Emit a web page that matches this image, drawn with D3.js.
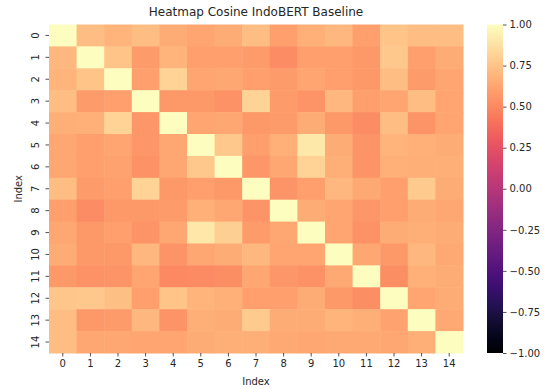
<!DOCTYPE html>
<html>
<head>
<meta charset="utf-8">
<script src="https://cdn.jsdelivr.net/npm/d3@7"></script>
<style>
  body { margin: 0; background: #fff; }
  text { font-family: "DejaVu Sans", sans-serif; fill: #262626; }
</style>
</head>
<body>
<svg id="chart" width="550" height="389"></svg>
<script>
// data: cosine similarity matrix
const labels = d3.range(15).map(String);
const matrix = [
  [1.00, 0.72, 0.68, 0.72, 0.65, 0.62, 0.65, 0.72, 0.60, 0.67, 0.70, 0.60, 0.75, 0.72, 0.72],
  [0.70, 1.00, 0.75, 0.58, 0.68, 0.60, 0.60, 0.58, 0.52, 0.60, 0.60, 0.57, 0.77, 0.60, 0.65],
  [0.68, 0.75, 1.00, 0.60, 0.82, 0.62, 0.63, 0.60, 0.58, 0.62, 0.60, 0.57, 0.72, 0.58, 0.62],
  [0.72, 0.58, 0.60, 1.00, 0.57, 0.57, 0.54, 0.82, 0.58, 0.55, 0.70, 0.60, 0.62, 0.72, 0.62],
  [0.66, 0.67, 0.82, 0.56, 1.00, 0.62, 0.63, 0.57, 0.58, 0.65, 0.57, 0.52, 0.72, 0.55, 0.62],
  [0.63, 0.60, 0.62, 0.56, 0.63, 1.00, 0.77, 0.60, 0.67, 0.90, 0.65, 0.55, 0.68, 0.67, 0.65],
  [0.63, 0.60, 0.61, 0.54, 0.63, 0.77, 1.00, 0.56, 0.63, 0.82, 0.66, 0.55, 0.67, 0.66, 0.66],
  [0.72, 0.58, 0.60, 0.82, 0.57, 0.60, 0.57, 1.00, 0.55, 0.60, 0.70, 0.64, 0.60, 0.78, 0.65],
  [0.60, 0.52, 0.57, 0.57, 0.58, 0.67, 0.63, 0.55, 1.00, 0.65, 0.62, 0.56, 0.60, 0.65, 0.63],
  [0.63, 0.57, 0.60, 0.55, 0.63, 0.90, 0.80, 0.58, 0.63, 1.00, 0.62, 0.54, 0.65, 0.66, 0.65],
  [0.65, 0.57, 0.57, 0.70, 0.55, 0.63, 0.65, 0.70, 0.62, 0.62, 1.00, 0.63, 0.57, 0.70, 0.64],
  [0.57, 0.54, 0.55, 0.62, 0.50, 0.51, 0.53, 0.63, 0.56, 0.54, 0.64, 1.00, 0.53, 0.67, 0.65],
  [0.76, 0.77, 0.73, 0.60, 0.75, 0.68, 0.67, 0.60, 0.60, 0.65, 0.57, 0.53, 1.00, 0.62, 0.65],
  [0.72, 0.57, 0.58, 0.70, 0.55, 0.66, 0.65, 0.78, 0.65, 0.65, 0.68, 0.66, 0.61, 1.00, 0.64],
  [0.72, 0.63, 0.63, 0.62, 0.62, 0.65, 0.66, 0.66, 0.64, 0.63, 0.64, 0.64, 0.63, 0.66, 1.00]
];
const colorTicks = [-1, -0.75, -0.5, -0.25, 0, 0.25, 0.5, 0.75, 1];

// sizes
const plot = { left: 49, right: 463, top: 24.5, bottom: 353 };
const bar = { left: 487, width: 16, top: 24.5, bottom: 353 };

const svg = d3.select("#chart");

const x = d3.scaleBand().domain(labels).range([plot.left, plot.right]);
const y = d3.scaleBand().domain(labels).range([plot.top, plot.bottom]);
const color = d3.scaleSequential(d3.interpolateMagma).domain([-1, 1]);

// cells
const cells = [];
matrix.forEach((row, i) => row.forEach((v, j) => cells.push({ r: labels[i], c: labels[j], v })));

svg.append("g")
  .selectAll("rect")
  .data(cells)
  .join("rect")
  .attr("x", d => x(d.c))
  .attr("y", d => y(d.r))
  .attr("width", x.bandwidth() + 0.5)
  .attr("height", y.bandwidth() + 0.5)
  .attr("fill", d => color(d.v));

// axes
const xAxis = svg.append("g")
  .attr("transform", `translate(0,${plot.bottom})`)
  .call(d3.axisBottom(x).tickSize(3.5).tickPadding(3.5));
xAxis.select(".domain").remove();
xAxis.selectAll("text").style("font-size", "10px").attr("fill", "#262626");
xAxis.selectAll("line").attr("stroke", "#262626").attr("stroke-width", 0.8);

const yAxis = svg.append("g")
  .attr("transform", `translate(${plot.left},0)`)
  .call(d3.axisLeft(y).tickSize(3.5).tickPadding(3.5));
yAxis.select(".domain").remove();
yAxis.selectAll("line").attr("stroke", "#262626").attr("stroke-width", 0.8);
yAxis.selectAll("text")
  .style("font-size", "10px")
  .attr("fill", "#262626")
  .attr("text-anchor", "middle")
  .attr("x", 0)
  .attr("y", 0)
  .attr("dy", 0)
  .attr("transform", "translate(-10.5,0) rotate(-90)");

// titles
svg.append("text")
  .attr("x", (plot.left + plot.right) / 2)
  .attr("y", 16)
  .attr("text-anchor", "middle")
  .style("font-size", "12px")
  .text("Heatmap Cosine IndoBERT Baseline");

svg.append("text")
  .attr("x", (plot.left + plot.right) / 2)
  .attr("y", 385)
  .attr("text-anchor", "middle")
  .style("font-size", "10px")
  .text("Index");

svg.append("text")
  .attr("transform", `translate(22,${(plot.top + plot.bottom) / 2}) rotate(-90)`)
  .attr("text-anchor", "middle")
  .style("font-size", "10px")
  .text("Index");

// colour bar
const defs = svg.append("defs");
const grad = defs.append("linearGradient")
  .attr("id", "magma")
  .attr("x1", "0%").attr("y1", "100%")
  .attr("x2", "0%").attr("y2", "0%");
d3.range(0, 1.0001, 0.05).forEach(t => {
  grad.append("stop").attr("offset", `${t * 100}%`).attr("stop-color", d3.interpolateMagma(t));
});
svg.append("rect")
  .attr("x", bar.left)
  .attr("y", bar.top)
  .attr("width", bar.width)
  .attr("height", bar.bottom - bar.top)
  .attr("fill", "url(#magma)");

const cScale = d3.scaleLinear().domain([-1, 1]).range([bar.bottom, bar.top]);
const cAxis = svg.append("g")
  .attr("transform", `translate(${bar.left + bar.width},0)`)
  .call(d3.axisRight(cScale).tickValues(colorTicks).tickSize(3.5).tickPadding(3)
    .tickFormat(d => d3.format(".2f")(d).replace("-", "\u2212")));
cAxis.select(".domain").remove();
cAxis.selectAll("text").style("font-size", "10px").attr("fill", "#262626");
cAxis.selectAll("line").attr("stroke", "#262626").attr("stroke-width", 0.8);
</script>
</body>
</html>
